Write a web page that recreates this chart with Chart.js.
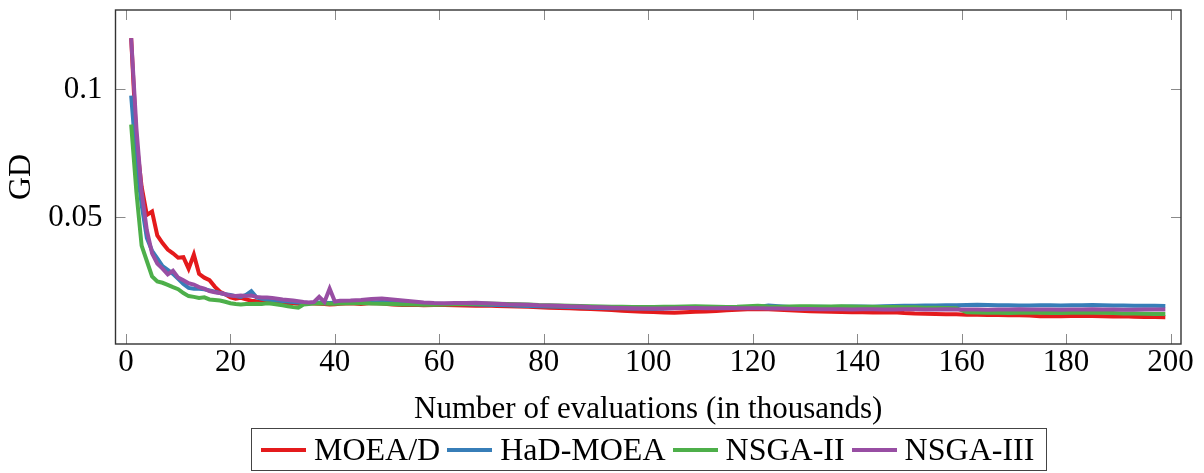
<!DOCTYPE html>
<html>
<head>
<meta charset="utf-8">
<script src="https://cdn.jsdelivr.net/npm/chart.js@4/dist/chart.umd.min.js"></script>
<style>
  body { margin: 0; background: #fff; }
  #wrap { position: relative; width: 1204px; height: 473px; }
  #legend {
    position: absolute; left: 251px; top: 428px; width: 796px; height: 43px;
    border: 1.3px solid #444; box-sizing: border-box;
    display: flex; align-items: center; padding-left: 9px;
    font-family: 'Liberation Serif', serif; font-size: 32px; color: #000;
  }
  .item { display: flex; align-items: center; margin-right: 7px; }
  .swatch { width: 45px; height: 4px; margin-right: 8px; }
</style>
</head>
<body>
<div id="wrap">
  <canvas id="gdChart" width="1204" height="473"></canvas>
  <div id="legend"></div>
</div>
<script>
// evaluations (thousands)
const xs = [1,2,3,4,5,6,7,8,9,10,11,12,13,14,15,16,17,18,19,20,
  21,22,23,24,25,26,27,28,29,30,31,32,33,34,35,36,37,38,39,40,
  41,43,45,47,49,51,53,55,57,59,61,63,65,67,69,71,73,75,77,79,
  81,83,85,87,89,91,93,95,97,99,101,103,105,107,109,111,113,115,117,119,
  121,123,125,127,129,131,133,135,137,139,141,143,145,147,149,151,153,155,157,159,
  161,163,165,167,169,171,173,175,177,179,181,183,185,187,189,191,193,195,197,199];

const labels = ['MOEA/D', 'HaD-MOEA', 'NSGA-II', 'NSGA-III'];
const colors = ['#e41a1c', '#377eb8', '#4daf4a', '#984ea3'];

const moead = [0.1200,0.0800,0.0620,0.0510,0.0523,0.0430,0.0400,0.0375,0.0360,0.0343,
  0.0345,0.0300,0.0355,0.0280,0.0265,0.0255,0.0230,0.0210,0.0200,0.0188,
  0.0183,0.0186,0.0180,0.0175,0.0173,0.0172,0.0175,0.0172,0.0170,0.0168,
  0.0166,0.0165,0.0163,0.0165,0.0166,0.0164,0.0163,0.0162,0.0160,0.0161,
  0.0163,0.0165,0.0162,0.0166,0.0164,0.0160,0.0158,0.0159,0.0157,0.0158,
  0.0158,0.0157,0.0156,0.0155,0.0156,0.0154,0.0153,0.0152,0.0151,0.0149,
  0.0148,0.0147,0.0146,0.0144,0.0143,0.0141,0.0139,0.0136,0.0134,0.0132,
  0.0131,0.0129,0.0128,0.0130,0.0132,0.0133,0.0135,0.0138,0.0140,0.0142,
  0.0143,0.0142,0.0140,0.0138,0.0136,0.0134,0.0133,0.0132,0.0131,0.0130,
  0.0130,0.0129,0.0129,0.0130,0.0127,0.0125,0.0124,0.0123,0.0122,0.0122,
  0.0120,0.0120,0.0119,0.0119,0.0118,0.0118,0.0117,0.0114,0.0115,0.0114,
  0.0115,0.0116,0.0115,0.0114,0.0113,0.0114,0.0112,0.0111,0.0111,0.0110];

const hadmoea = [0.0976,0.0720,0.0550,0.0420,0.0370,0.0340,0.0310,0.0295,0.0280,0.0260,
  0.0240,0.0225,0.0222,0.0222,0.0220,0.0215,0.0210,0.0205,0.0200,0.0197,
  0.0193,0.0190,0.0198,0.0212,0.0188,0.0183,0.0180,0.0178,0.0176,0.0174,
  0.0172,0.0170,0.0168,0.0167,0.0166,0.0166,0.0168,0.0167,0.0166,0.0167,
  0.0168,0.0167,0.0169,0.0168,0.0170,0.0168,0.0166,0.0165,0.0164,0.0163,
  0.0162,0.0162,0.0161,0.0160,0.0159,0.0158,0.0157,0.0155,0.0154,0.0153,
  0.0152,0.0151,0.0150,0.0149,0.0148,0.0147,0.0146,0.0146,0.0145,0.0145,
  0.0144,0.0145,0.0147,0.0148,0.0148,0.0147,0.0148,0.0149,0.0150,0.0149,
  0.0151,0.0156,0.0153,0.0150,0.0149,0.0150,0.0151,0.0150,0.0151,0.0152,
  0.0152,0.0151,0.0153,0.0154,0.0155,0.0155,0.0156,0.0156,0.0157,0.0157,
  0.0158,0.0159,0.0158,0.0157,0.0157,0.0156,0.0156,0.0157,0.0157,0.0156,
  0.0157,0.0157,0.0158,0.0157,0.0156,0.0156,0.0155,0.0155,0.0155,0.0154];

const nsga2 = [0.0863,0.0600,0.0390,0.0330,0.0270,0.0250,0.0245,0.0237,0.0228,0.0220,
  0.0205,0.0193,0.0190,0.0186,0.0188,0.0180,0.0178,0.0176,0.0171,0.0165,
  0.0162,0.0160,0.0162,0.0162,0.0163,0.0162,0.0165,0.0163,0.0160,0.0157,
  0.0153,0.0150,0.0148,0.0160,0.0162,0.0164,0.0165,0.0164,0.0163,0.0163,
  0.0164,0.0165,0.0166,0.0164,0.0163,0.0162,0.0160,0.0160,0.0159,0.0159,
  0.0160,0.0161,0.0162,0.0163,0.0164,0.0163,0.0162,0.0161,0.0160,0.0158,
  0.0157,0.0156,0.0155,0.0154,0.0153,0.0152,0.0151,0.0151,0.0150,0.0150,
  0.0150,0.0151,0.0151,0.0152,0.0153,0.0152,0.0151,0.0150,0.0151,0.0153,
  0.0155,0.0152,0.0151,0.0152,0.0153,0.0153,0.0152,0.0152,0.0153,0.0152,
  0.0151,0.0151,0.0150,0.0150,0.0149,0.0149,0.0148,0.0148,0.0147,0.0146,
  0.0130,0.0129,0.0128,0.0128,0.0127,0.0128,0.0129,0.0128,0.0127,0.0127,
  0.0128,0.0128,0.0129,0.0128,0.0127,0.0125,0.0125,0.0124,0.0123,0.0123];

const nsga3 = [0.1200,0.0850,0.0600,0.0450,0.0360,0.0320,0.0300,0.0278,0.0292,0.0265,
  0.0255,0.0243,0.0238,0.0228,0.0222,0.0213,0.0208,0.0205,0.0200,0.0195,
  0.0193,0.0195,0.0193,0.0195,0.0190,0.0188,0.0188,0.0186,0.0183,0.0180,
  0.0178,0.0176,0.0173,0.0170,0.0168,0.0170,0.0190,0.0170,0.0222,0.0172,
  0.0175,0.0176,0.0178,0.0182,0.0184,0.0180,0.0176,0.0172,0.0168,0.0166,
  0.0165,0.0166,0.0166,0.0167,0.0165,0.0163,0.0161,0.0160,0.0159,0.0157,
  0.0156,0.0155,0.0153,0.0152,0.0150,0.0149,0.0148,0.0147,0.0146,0.0145,
  0.0145,0.0145,0.0146,0.0147,0.0147,0.0146,0.0146,0.0147,0.0146,0.0146,
  0.0146,0.0145,0.0145,0.0144,0.0143,0.0143,0.0142,0.0142,0.0142,0.0141,
  0.0142,0.0142,0.0141,0.0141,0.0142,0.0142,0.0141,0.0141,0.0142,0.0141,
  0.0141,0.0141,0.0140,0.0141,0.0141,0.0142,0.0141,0.0141,0.0141,0.0140,
  0.0141,0.0141,0.0142,0.0141,0.0141,0.0140,0.0140,0.0141,0.0141,0.0141];

const xTicks = [0, 20, 40, 60, 80, 100, 120, 140, 160, 180, 200];
const yTicks = [0.05, 0.1];
const yTickLabels = ['0.05', '0.1'];

const series = [moead, hadmoea, nsga2, nsga3];

Chart.defaults.font.family = "'Liberation Serif', serif";
Chart.defaults.color = '#000';

// frame + inward tick marks like pgfplots
const frameTicks = {
  id: 'frameTicks',
  afterDraw(chart) {
    const ctx = chart.ctx;
    const a = chart.chartArea;
    const xs_ = chart.scales.x, ys_ = chart.scales.y;
    ctx.save();
    ctx.strokeStyle = '#8a8a8a';
    ctx.lineWidth = 1;
    ctx.beginPath();
    xs_.ticks.forEach(t => {
      const px = Math.round(xs_.getPixelForValue(t.value)) + 0.5;
      ctx.moveTo(px, a.bottom); ctx.lineTo(px, a.bottom - 10);
      ctx.moveTo(px, a.top); ctx.lineTo(px, a.top + 10);
    });
    ys_.ticks.forEach(t => {
      const py = Math.round(ys_.getPixelForValue(t.value)) + 0.5;
      ctx.moveTo(a.left, py); ctx.lineTo(a.left + 10, py);
      ctx.moveTo(a.right, py); ctx.lineTo(a.right - 10, py);
    });
    ctx.stroke();
    ctx.strokeStyle = '#333';
    ctx.lineWidth = 1.4;
    ctx.strokeRect(a.left, a.top, a.right - a.left, a.bottom - a.top);
    ctx.restore();
  }
};

const ctx = document.getElementById('gdChart').getContext('2d');
new Chart(ctx, {
  type: 'line',
  data: {
    datasets: series.map((s, i) => ({
      label: labels[i],
      data: s.map((v, j) => ({ x: xs[j], y: v })),
      borderColor: colors[i],
      backgroundColor: colors[i],
      borderWidth: 4,
      pointRadius: 0,
      tension: 0,
      fill: false,
      order: 4 - i
    }))
  },
  options: {
    responsive: false,
    animation: false,
    layout: { padding: { left: 0, top: 10, right: 23, bottom: 45 } },
    plugins: { legend: { display: false }, tooltip: { enabled: false } },
    scales: {
      x: {
        type: 'linear', min: -2, max: 202,
        grid: { display: false, drawTicks: false },
        border: { display: false },
        afterBuildTicks: s => { s.ticks = xTicks.map(v => ({ value: v })); },
        afterFit: s => { s.height = 84; s.paddingLeft = 0; s.paddingRight = 0; },
        ticks: { font: { size: 31 }, padding: 0, maxRotation: 0, autoSkip: false },
        title: { display: true, text: 'Number of evaluations (in thousands)', font: { size: 31 }, padding: { top: 0, bottom: 0 } }
      },
      y: {
        type: 'linear', min: 0.0006, max: 0.131,
        grid: { display: false, drawTicks: false },
        border: { display: false },
        afterBuildTicks: s => { s.ticks = yTicks.map(v => ({ value: v })); },
        afterFit: s => { s.width = 115.5; s.paddingTop = 0; s.paddingBottom = 0; },
        ticks: { font: { size: 31 }, padding: 13, callback: (v, i) => yTickLabels[i] },
        title: { display: true, text: 'GD', font: { size: 32 }, padding: { top: 2, bottom: 0 } }
      }
    }
  },
  plugins: [frameTicks]
});

const legend = document.getElementById('legend');
labels.forEach((l, i) => {
  const item = document.createElement('div');
  item.className = 'item';
  item.innerHTML = '<span class="swatch" style="background:' + colors[i] + '"></span><span>' + l + '</span>';
  legend.appendChild(item);
});
</script>
</body>
</html>
